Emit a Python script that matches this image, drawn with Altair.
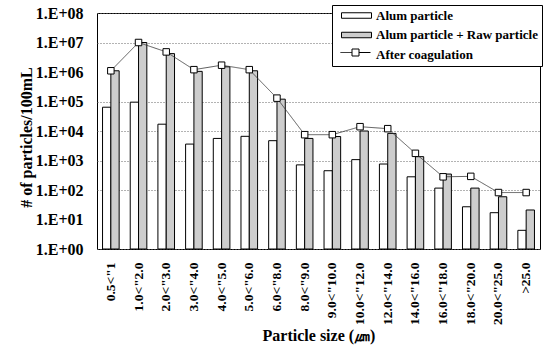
import altair as alt
import pandas as pd

categories = ['0.5<"1', '1.0<"2.0', '2.0<"3.0', '3.0<"4.0', '4.0<"5.0', '5.0<"6.0',
              '6.0<"8.0', '8.0<"9.0', '9.0<"10.0', '10.0<"12.0', '12.0<"14.0',
              '14.0<"16.0', '16.0<"18.0', '18.0<"20.0', '20.0<"25.0', '>25.0']
alum = [6.4e4, 9.5e4, 1.7e4, 3.6e3, 5.6e3, 6.6e3, 4.7e3, 710, 450, 1070, 760, 280, 116, 27, 17, 4.3]
raw = [1.1e6, 1.0e7, 4.2e6, 1.05e6, 1.5e6, 1.1e6, 1.2e5, 5.6e3, 6.5e3, 1.0e4, 8.3e3, 1.35e3, 347, 116, 59, 21]
coag = [1.1e6, 1.0e7, 4.8e6, 1.2e6, 1.7e6, 1.2e6, 1.3e5, 7.5e3, 7.5e3, 1.4e4, 1.2e4, 1.75e3, 280, 290, 82, 82]
series_names = ["Alum particle", "Alum particle + Raw particle", "After coagulation"]
y_ticks = [1, 10, 100, 1e3, 1e4, 1e5, 1e6, 1e7, 1e8]

rows = []
for c, a, r in zip(categories, alum, raw):
    rows.append({"size": c, "series": series_names[0], "value": a})
    rows.append({"size": c, "series": series_names[1], "value": r})
bars_df = pd.DataFrame(rows)
coag_df = pd.DataFrame({"size": categories, "value": coag, "lbl": series_names[2]})

FONT = "Liberation Serif"

x_enc = alt.X(
    "size:N", sort=categories,
    scale=alt.Scale(paddingInner=0.4, paddingOuter=0.2),
    axis=alt.Axis(
        title="Particle size (㎛)", labelAngle=-90, labelFont=FONT, labelFontWeight="bold",
        labelFontSize=13.5, labelColor="black", labelPadding=13, ticks=False, domain=False,
        titleFont=FONT, titleFontWeight="bold", titleFontSize=16, titleColor="black",
        titleY=91, titleBaseline="alphabetic",
    ),
)
y_scale = alt.Scale(type="log", domain=[1, 1e8], nice=False)
y_axis = alt.Axis(
    values=y_ticks, labelExpr="'1.E+0' + round(log(datum.value)/LN10)",
    labelFont=FONT, labelFontWeight="bold", labelFontSize=16, labelColor="black",
    labelPadding=14, ticks=False, domain=False,
    grid=True, gridDash=[1, 2], gridColor="#666", gridWidth=1,
    gridOpacity={"condition": {"test": "datum.value == 1e6 || datum.value == 10", "value": 0}, "value": 1},
    title="# of particles/100mL", titleFont=FONT, titleFontWeight="bold", titleFontSize=16,
    titleColor="black", titleX=-66, titleY=124, titleBaseline="alphabetic",
)

rect_path = "M-3,-0.55H3V0.55H-3Z"
line_sq_path = "M-3,0H-0.7M0.7,0H3M-0.7,-0.7H0.7V0.7H-0.7Z"

legA = alt.Legend(
    orient="none", legendX=235, legendY=-8, title=None, fillColor="white", strokeColor="black",
    padding=4, symbolType=rect_path, symbolSize=100, symbolStrokeWidth=1, symbolOffset=14,
    labelFont=FONT, labelFontWeight="bold", labelFontSize=13, labelColor="black",
    labelOffset=13, rowPadding=5.5, labelLimit=400,
)

bars = alt.Chart(bars_df).mark_bar(strokeWidth=1).encode(
    x=x_enc,
    xOffset=alt.XOffset("series:N", sort=series_names[:2], scale=alt.Scale(paddingInner=0)),
    y=alt.Y("value:Q", scale=y_scale, axis=y_axis),
    y2=alt.datum(1),
    fill=alt.Fill("series:N", scale=alt.Scale(domain=series_names, range=["white", "#cdcdcd", "transparent"]), legend=legA),
    stroke=alt.Stroke("series:N", scale=alt.Scale(domain=series_names, range=["black", "black", "transparent"]), legend=legA),
)

legB = alt.Legend(
    orient="none", legendX=235, legendY=30, title=None, padding=4,
    symbolType=line_sq_path, symbolSize=100, symbolStrokeColor="black", symbolStrokeWidth=1,
    symbolFillColor="white", symbolOffset=14, labelExpr="''",
)

line = alt.Chart(coag_df).mark_line(stroke="#333", strokeWidth=0.8).encode(
    x=x_enc,
    y=alt.Y("value:Q", scale=y_scale),
    strokeDash=alt.StrokeDash("lbl:N", scale=alt.Scale(domain=[series_names[2]], range=[[1, 0]]), legend=legB),
)
points = alt.Chart(coag_df).mark_point(shape="square", filled=True, fill="white", stroke="black",
                                        strokeWidth=1, size=42, opacity=1).encode(
    x=x_enc,
    y=alt.Y("value:Q", scale=y_scale),
)

chart = alt.layer(bars, line, points).properties(
    width=443, height=236,
    autosize=alt.AutoSizeParams(type="none"),
    padding={"left": 97, "top": 13, "right": 9, "bottom": 96},
    background="white",
).configure_view(stroke="black", strokeWidth=1).configure_legend(
    labelFont=FONT, labelFontWeight="bold", labelLimit=400,
)

chart.save("out.html", embed_options={"renderer": "svg", "actions": False})
